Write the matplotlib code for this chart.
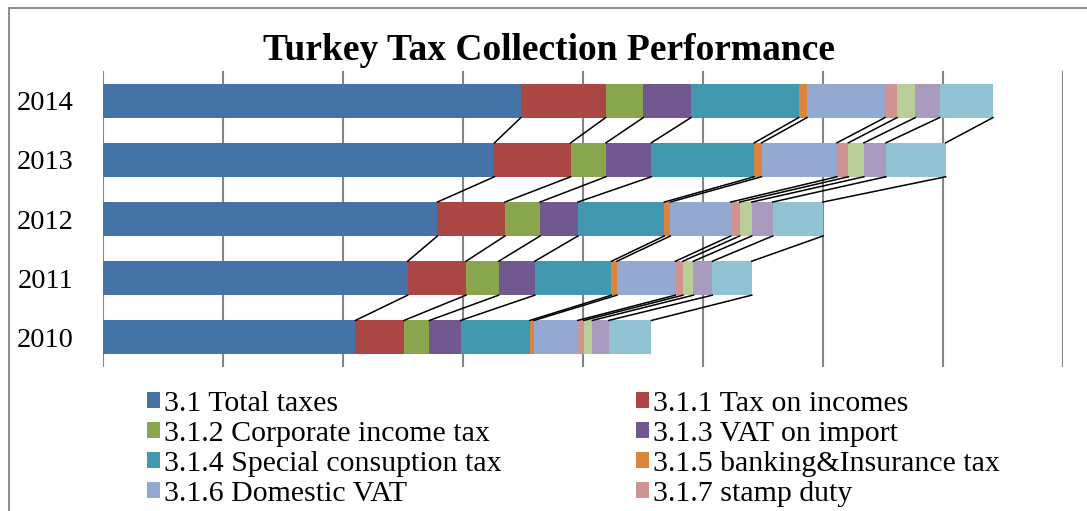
import numpy as np
import matplotlib
matplotlib.use("Agg")
import matplotlib.pyplot as plt
from matplotlib.patches import Patch
from matplotlib.lines import Line2D

plt.rcParams['font.family'] = ['Liberation Serif', 'DejaVu Serif']

# years, bottom to top
years = ['2010', '2011', '2012', '2013', '2014']

# values (billion TL, gridline = 100)
total_taxes = [210.3, 253.9, 278.7, 326.2, 348.3]
tax_on_incomes = [40.5, 48.6, 56.3, 63.5, 70.6]
corporate_income_tax = [21.2, 27.3, 29.2, 29.4, 31.4]
vat_on_import = [26.1, 30.0, 31.6, 37.8, 39.7]
special_consumption_tax = [57.5, 63.9, 72.0, 85.8, 89.8]
banking_insurance_tax = [3.6, 4.6, 5.0, 6.1, 6.9]
domestic_vat = [36.4, 48.7, 50.3, 62.8, 65.0]
stamp_duty = [5.0, 6.3, 7.5, 9.5, 10.0]
series_318 = [7.2, 8.7, 10.0, 13.0, 15.3]
series_319 = [13.6, 15.8, 17.5, 18.3, 20.2]
series_3110 = [35.6, 32.8, 41.9, 49.8, 44.5]

series = [total_taxes, tax_on_incomes, corporate_income_tax, vat_on_import,
          special_consumption_tax, banking_insurance_tax, domestic_vat,
          stamp_duty, series_318, series_319, series_3110]
names = ['3.1 Total taxes', '3.1.1 Tax on incomes', '3.1.2 Corporate income tax',
         '3.1.3 VAT on import', '3.1.4 Special consuption tax',
         '3.1.5 banking&Insurance tax', '3.1.6 Domestic VAT', '3.1.7 stamp duty',
         '3.1.8', '3.1.9', '3.1.10']
colors = ['#4572A7', '#AA4643', '#89A54E', '#71588F', '#4198AF', '#DB843D',
          '#93A9CF', '#D19392', '#B9CD96', '#A99BBD', '#92C3D4']

fig = plt.figure(figsize=(10.87, 5.11), dpi=100)
ax = fig.add_axes([103 / 1087, 1 - 367 / 511, 960 / 1087, 296 / 511])

y = np.arange(len(years))
h = 0.573
left = np.zeros(len(years))
ends = []
for vals, c in zip(series, colors):
    vals = np.array(vals)
    ax.barh(y, vals, left=left, height=h, color=c, edgecolor='none', zorder=3)
    left = left + vals
    ends.append(left.copy())

# series lines between neighbouring bars
for e in ends:
    for j in range(len(years) - 1):
        ax.plot([e[j + 1], e[j]], [y[j + 1] - h / 2, y[j] + h / 2],
                color='black', lw=1.1, zorder=4)

ax.set_xlim(0, 800)
ax.set_ylim(-0.5, 4.5)
ax.set_xticks(np.arange(0, 801, 100))
ax.set_xticklabels([])
ax.set_yticks(y)
ax.set_yticklabels(years, fontsize=20.5)
ax.tick_params(axis='both', length=0)
ax.tick_params(axis='y', pad=21)
ax.grid(axis='x', color='#868686', lw=1.5, zorder=0)
for s in ax.spines.values():
    s.set_visible(False)

fig.text(549 / 1087, 1 - 50 / 511, 'Turkey Tax Collection Performance',
         ha='center', va='center', fontsize=27, fontweight='bold')

# chart border (cropped at right and bottom)
fig.add_artist(Line2D([8.5 / 1087, 8.5 / 1087], [0, 1 - 8.5 / 511],
                      color='#868686', lw=1.3))
fig.add_artist(Line2D([8.5 / 1087, 1], [1 - 8.5 / 511, 1 - 8.5 / 511],
                      color='#868686', lw=1.3))

# legend, two columns, row-wise order like Excel
handles = [Patch(facecolor=c, edgecolor='none') for c in colors[:8]]
for col, x0 in [(0, 147), (1, 636)]:
    idx = list(range(col, 8, 2))
    leg = fig.legend([handles[i] for i in idx], [names[i] for i in idx],
                     loc='upper left', bbox_to_anchor=(x0 / 1087, 1 - 391 / 511),
                     frameon=False, fontsize=21.5, handlelength=0.45,
                     handleheight=0.45, handletextpad=0.12, labelspacing=0.13,
                     borderpad=0, borderaxespad=0)

fig.savefig('out.png', dpi=100)
